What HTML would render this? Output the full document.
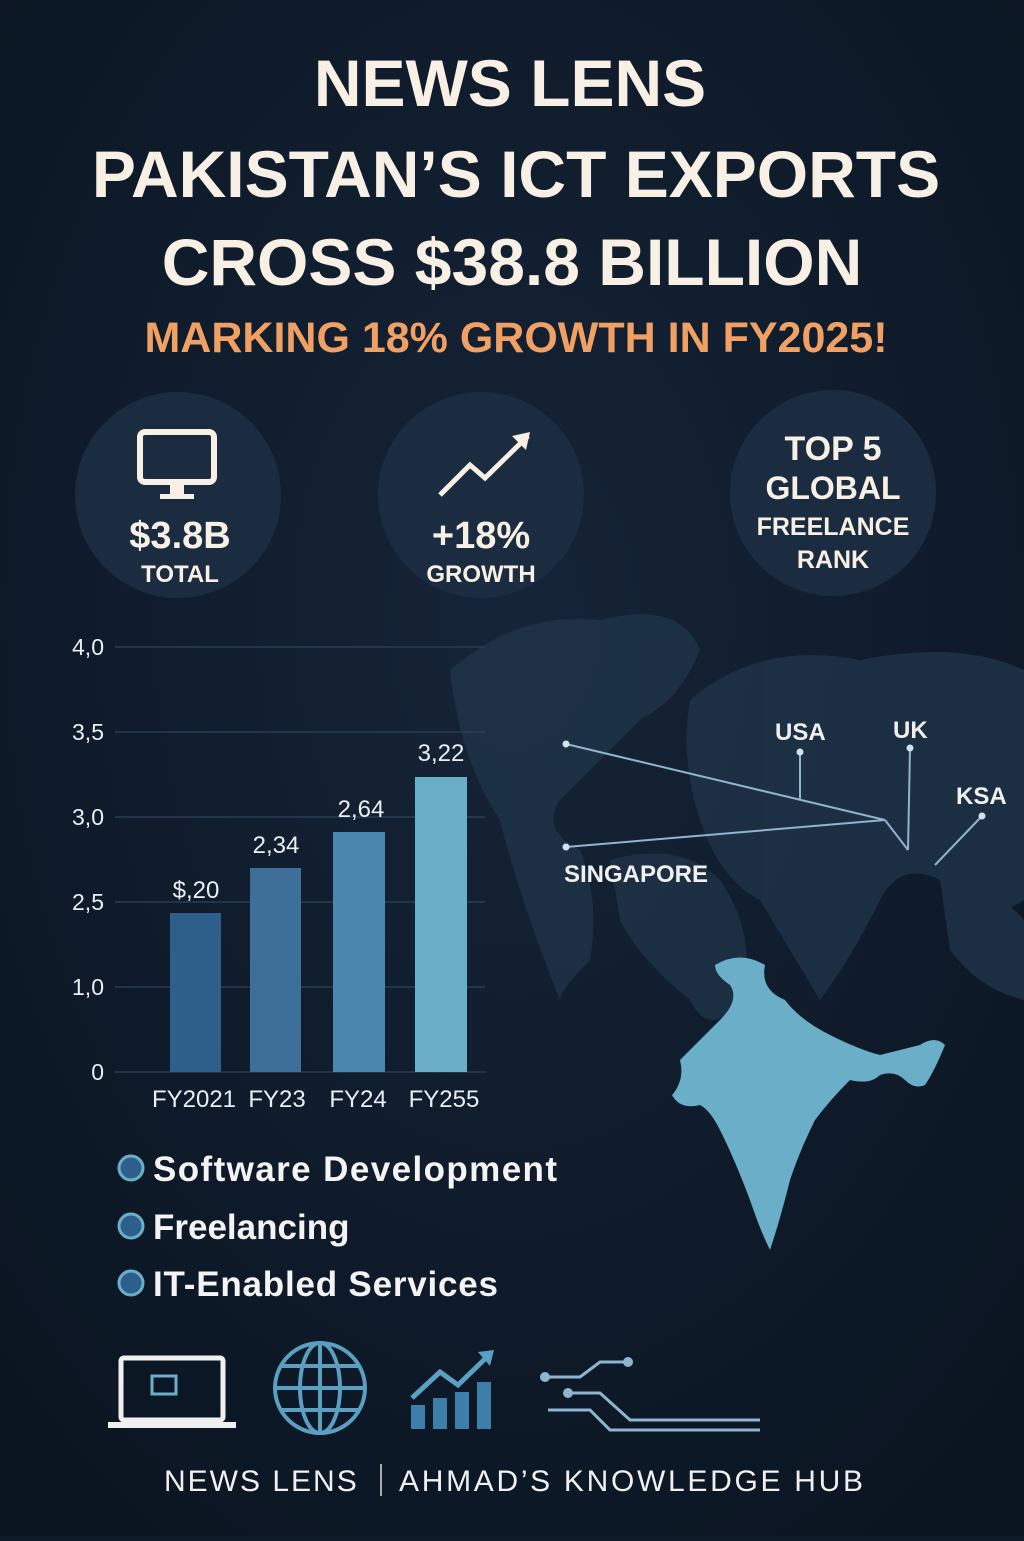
<!DOCTYPE html>
<html><head><meta charset="utf-8"><style>
html,body{margin:0;padding:0;background:#0f1a29;}
body{width:1024px;height:1536px;overflow:hidden;font-family:"Liberation Sans","DejaVu Sans",sans-serif;}
</style></head><body>
<svg width="1024" height="1536" viewBox="0 0 1024 1536" xmlns="http://www.w3.org/2000/svg" font-family="Liberation Sans, DejaVu Sans, sans-serif">
<defs><radialGradient id="bg" cx="50%" cy="40%" r="70%"><stop offset="0" stop-color="#152437"/><stop offset="1" stop-color="#0b1522"/></radialGradient></defs>
<rect width="1024" height="1536" fill="url(#bg)"/>
<g fill="#f8f0e4" font-weight="bold" text-anchor="middle" font-size="66">
<text x="510" y="106">NEWS LENS</text>
<text x="516" y="197">PAKISTAN’S ICT EXPORTS</text>
<text x="512" y="285">CROSS $38.8 BILLION</text>
</g>
<text x="516" y="352" fill="#f0a062" font-weight="bold" font-size="43" text-anchor="middle">MARKING 18% GROWTH IN FY2025!</text>
<g fill="#1b2c40"><circle cx="178" cy="495" r="103"/><circle cx="481" cy="495" r="103"/><circle cx="833" cy="493" r="103"/></g>
<rect x="140" y="432" width="74" height="50" rx="5" fill="none" stroke="#f8f0e4" stroke-width="6"/>
<rect x="170" y="484" width="14" height="10" fill="#f8f0e4"/><rect x="160" y="494" width="34" height="5" fill="#f8f0e4"/>
<polyline points="440,495 470,465 485,478 528,436" fill="none" stroke="#f8f0e4" stroke-width="5"/>
<polygon points="530,432 512,436 526,450" fill="#f8f0e4"/>
<g fill="#f8f0e4" font-weight="bold" text-anchor="middle">
<text x="180" y="548" font-size="38">$3.8B</text><text x="180" y="582" font-size="24">TOTAL</text>
<text x="481" y="548" font-size="38">+18%</text><text x="481" y="582" font-size="24">GROWTH</text>
<text x="833" y="460" font-size="34">TOP 5</text><text x="833" y="499" font-size="32">GLOBAL</text>
<text x="833" y="535" font-size="25">FREELANCE</text><text x="833" y="568" font-size="25">RANK</text>
</g>
<g fill="#1f3246" opacity="0.85">
<path d="M450,670 Q520,610 600,620 Q680,600 700,650 Q680,700 640,720 Q600,760 560,800 Q540,830 580,850 Q600,900 590,960 Q560,990 560,1000 Q520,900 500,820 Q460,760 450,670Z"/>
<path d="M690,700 Q760,640 860,660 Q960,640 1024,670 L1024,900 Q980,930 940,880 Q900,860 880,900 Q850,960 820,1000 Q790,950 760,900 Q720,880 700,820 Q680,760 690,700Z"/>
<path d="M610,860 Q680,840 720,880 Q760,940 740,1000 Q710,1040 690,1000 Q640,960 620,920Z"/>
<path d="M940,880 Q1000,890 1024,920 L1024,1000 Q980,990 950,950Z"/>
</g>
<g stroke="#8fb4cc" stroke-width="2" fill="none">
<line x1="566" y1="744" x2="885" y2="820"/><line x1="566" y1="847" x2="885" y2="820"/>
<line x1="800" y1="752" x2="800" y2="800"/><line x1="910" y1="748" x2="908" y2="850"/>
<line x1="885" y1="820" x2="908" y2="850"/><line x1="982" y1="816" x2="935" y2="865"/>
</g>
<g fill="#cfe2ee"><circle cx="566" cy="744" r="3.5"/><circle cx="566" cy="847" r="3.5"/><circle cx="800" cy="752" r="3.5"/><circle cx="910" cy="748" r="3.5"/><circle cx="982" cy="816" r="3.5"/></g>
<g fill="#f0f0f0" font-size="24" font-weight="bold">
<text x="775" y="740">USA</text><text x="893" y="738">UK</text><text x="956" y="804">KSA</text><text x="564" y="882">SINGAPORE</text>
</g>
<path fill="#6aaec8" d="M715,965 Q740,950 765,965 Q760,990 785,1000 Q800,1020 830,1035 Q860,1050 880,1055 Q900,1050 920,1045 Q935,1035 945,1045 Q935,1070 925,1085 Q915,1090 905,1080 Q895,1070 880,1075 Q870,1085 850,1080 Q830,1100 815,1120 Q800,1150 790,1180 Q780,1220 770,1250 Q760,1230 750,1200 Q735,1160 720,1130 Q710,1110 700,1105 Q680,1110 672,1095 Q685,1080 680,1060 Q700,1040 720,1020 Q740,1000 730,985 Q715,975 715,965Z"/>
<g stroke="#2b3d52" stroke-width="1.5">
<line x1="115" y1="647" x2="485" y2="647"/><line x1="115" y1="732" x2="485" y2="732"/><line x1="115" y1="817" x2="485" y2="817"/><line x1="115" y1="902" x2="485" y2="902"/><line x1="115" y1="987" x2="485" y2="987"/><line x1="115" y1="1072" x2="485" y2="1072"/>
</g>
<g fill="#e8eef4" font-size="23" text-anchor="end">
<text x="104" y="655">4,0</text><text x="104" y="740">3,5</text><text x="104" y="825">3,0</text><text x="104" y="910">2,5</text><text x="104" y="995">1,0</text><text x="104" y="1080">0</text>
</g>
<rect x="170" y="913" width="51" height="159" fill="#2e5f8a"/>
<rect x="250" y="868" width="51" height="204" fill="#3d6f99"/>
<rect x="333" y="832" width="52" height="240" fill="#4a86ad"/>
<rect x="415" y="777" width="52" height="295" fill="#6aaec8"/>
<g fill="#e8eef4" font-size="24" text-anchor="middle">
<text x="196" y="898">$,20</text><text x="276" y="853">2,34</text><text x="361" y="817">2,64</text><text x="441" y="761">3,22</text>
<text x="194" y="1107">FY2021</text><text x="277" y="1107">FY23</text><text x="358" y="1107">FY24</text><text x="444" y="1107">FY255</text>
</g>
<g fill="#2e5f8a" stroke="#6aaec8" stroke-width="3"><circle cx="131" cy="1168" r="12"/><circle cx="131" cy="1226" r="12"/><circle cx="131" cy="1283" r="12"/></g>
<g fill="#f4f4f4" font-size="35" font-weight="bold">
<text x="153" y="1181" textLength="404">Software Development</text><text x="153" y="1239">Freelancing</text><text x="153" y="1296" textLength="345">IT-Enabled Services</text>
</g>
<rect x="121" y="1358" width="102" height="62" rx="3" fill="none" stroke="#f0f0f0" stroke-width="5"/>
<line x1="108" y1="1425" x2="236" y2="1425" stroke="#f0f0f0" stroke-width="6"/>
<rect x="152" y="1376" width="24" height="18" fill="none" stroke="#6aaec8" stroke-width="3"/>
<g fill="none" stroke="#5a9ec0" stroke-width="4"><circle cx="320" cy="1388" r="45"/><ellipse cx="320" cy="1388" rx="20" ry="45"/><line x1="275" y1="1388" x2="365" y2="1388"/><line x1="281" y1="1366" x2="359" y2="1366"/><line x1="281" y1="1410" x2="359" y2="1410"/><line x1="320" y1="1343" x2="320" y2="1433"/></g>
<g fill="#3d7fa8"><rect x="411" y="1405" width="14" height="24"/><rect x="433" y="1398" width="14" height="31"/><rect x="455" y="1392" width="14" height="37"/><rect x="477" y="1382" width="14" height="47"/></g>
<polyline points="412,1398 440,1372 458,1385 488,1356" fill="none" stroke="#5aa0c4" stroke-width="5"/>
<polygon points="494,1350 478,1352 490,1366" fill="#5aa0c4"/>
<g fill="none" stroke="#8fb4cc" stroke-width="3"><polyline points="545,1377 580,1377 600,1362 628,1362"/><polyline points="568,1393 600,1393 630,1420 760,1420"/><polyline points="548,1410 590,1410 610,1430 760,1430"/></g>
<g fill="#8fb4cc"><circle cx="545" cy="1377" r="5"/><circle cx="628" cy="1362" r="5"/><circle cx="568" cy="1393" r="5"/></g>
<g fill="#f0f0f0" font-size="30" letter-spacing="2">
<text x="164" y="1491">NEWS LENS</text><text x="399" y="1491" textLength="466">AHMAD’S KNOWLEDGE HUB</text>
</g>
<line x1="381" y1="1464" x2="381" y2="1496" stroke="#aaa" stroke-width="2"/>
</svg>
</body></html>
